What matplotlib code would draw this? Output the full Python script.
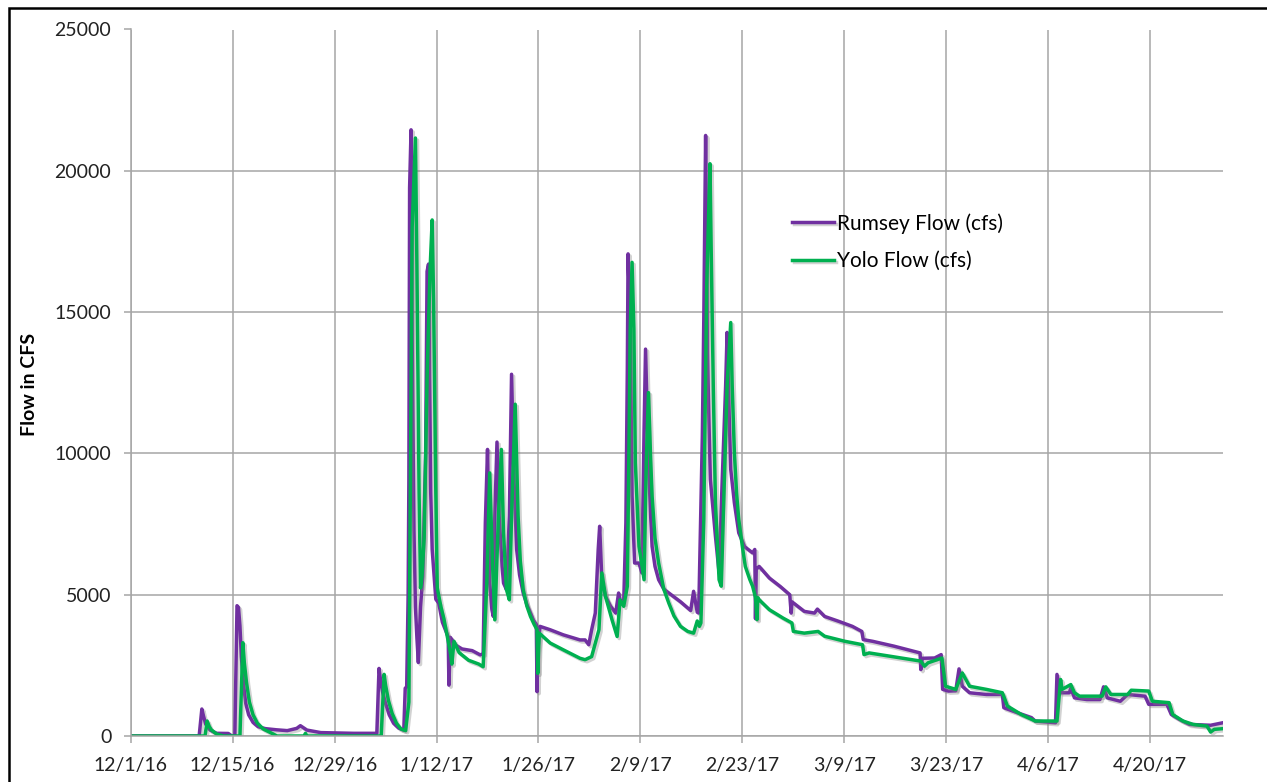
import matplotlib
matplotlib.use("Agg")
import matplotlib.pyplot as plt
import matplotlib.patheffects as pe
import matplotlib.patches as mpatches
import pandas as pd

# day offsets from 12/1/16 and flow values
start = pd.Timestamp("2016-12-01")

rumsey_days = [0, 9.4, 9.77, 10.0, 10.3, 10.9, 11.8, 13.4, 13.9, 14.3, 14.6, 14.8, 15.0, 15.2, 15.5,
               15.8, 16.2, 16.8, 17.5, 18.5, 20.0, 21.5, 22.8, 23.3, 24.2, 26.1, 30.6, 33.8, 34.1,
               34.3, 34.6, 35.0, 35.5, 36.1, 36.8, 37.5, 37.7, 37.9,
               38.1, 38.2, 38.3, 38.5, 38.65, 38.9, 39.1, 39.3, 39.5, 39.8, 40.1, 40.5, 40.7, 40.9, 41.2,
               41.4, 41.9, 42.3, 42.8, 43.2, 43.6, 43.7, 43.9, 44.6, 45.5, 46.9, 48.0, 48.4,
               48.7, 49.0, 49.3, 49.6, 49.8, 50.0, 50.3, 50.6, 51.0, 51.2, 51.6, 52.0, 52.3, 52.65, 53.0,
               53.4, 53.9, 54.4, 54.9, 55.3, 55.7, 55.8, 55.9, 56.2, 57.6, 59.4, 61.7,
               62.4, 62.9, 63.3, 63.8, 64.2, 64.4, 64.7, 65.2, 65.9, 66.6, 67.0, 67.2, 67.7, 68.0, 68.2,
               68.3, 68.6, 68.85, 69.2, 69.8, 70.2, 70.5, 70.7, 71.1, 71.4, 71.6, 72.0, 72.5, 73.2, 73.9,
               75.5, 76.9, 77.3, 77.8, 78.0, 78.5, 78.7, 78.95, 79.2, 79.4, 79.6, 80.3, 80.8, 81.2, 81.7,
               81.9, 82.2, 82.4, 82.9, 83.5, 84.3, 85.4, 85.7, 85.8, 85.9, 86.3, 87.7, 89.2, 90.5, 90.7,
               90.8, 92.5, 93.9, 94.3, 95.3, 97.2, 99.1, 100.4, 100.6, 101.9, 104.8, 108.4, 108.5, 108.7,
               110.4, 111.3, 111.5, 112.3, 113.3, 113.75, 114.2, 115.2, 117.5, 119.7, 119.9, 121.8, 123.7,
               124.2, 127.0, 127.2, 127.7, 128.9, 129.1, 129.6, 131.3, 133.1, 133.6, 134.1, 135.9, 136.9,
               139.3, 139.8, 142.3, 142.9, 144.0, 145.4, 148.3, 150.0]
rumsey_cfs = [0, 0, 955, 700, 420, 210, 95, 90, 0, 0, 4610, 4550, 3900, 2800, 1800,
              1150, 750, 480, 330, 260, 220, 190, 270, 365, 210, 120, 95, 95, 2390,
              2000, 1550, 1150, 750, 450, 280, 210, 1690, 1740,
              5000, 9020, 19400, 21450, 14000, 7270, 4570, 3490, 2600, 4570, 5650, 10000, 16440, 16700, 8600,
              6600, 4840, 4700, 4030, 3760, 3500, 1800, 3490, 3220, 3080, 3020, 2870, 2910,
              7540, 10140, 5410, 4470, 4230, 7780, 10400, 7780, 6000, 5410, 5180, 7780, 12800, 8960, 6600,
              5700, 5060, 4650, 4350, 4100, 3940, 1570, 3000, 3880, 3760, 3580, 3400,
              3400, 3230, 3760, 4350, 6600, 7420, 5530, 4940, 4590, 4350, 5060, 4820, 4700, 7540, 13000,
              17060, 14400, 8490, 6120, 6120, 5770, 10850, 13690, 9670, 7800, 6710, 6000, 5530, 5200, 5060,
              4750, 4440, 5120, 4380, 4350, 10610, 14750, 21250, 13570, 11200, 9080, 7070, 5770, 8840, 12390,
              14280, 11200, 9430, 8250, 7190, 6700, 6480, 6600, 4150, 5900, 6000, 5590, 5290, 5000, 4350,
              4750, 4410, 4350, 4490, 4230, 4060, 3880, 3700, 3410, 3350, 3180, 2940, 2350, 2750,
              2760, 2880, 1650, 1590, 1600, 2375, 1760, 1530, 1470, 1470, 1000, 820, 650,
              530, 470, 2180, 1530, 1530, 1700, 1350, 1290, 1290, 1740, 1350, 1230, 1470,
              1410, 1120, 1120, 760, 590, 410, 380, 470]

yolo_days = [0, 10.2, 10.5, 10.8, 11.1, 11.8, 12.75, 15.0, 15.4, 15.6, 15.9, 16.3, 16.8, 17.4, 18.2,
             19.2, 20.1, 23.8, 24.0, 24.2, 34.4, 34.8, 35.0, 35.4, 35.9, 36.5, 37.1, 37.75, 38.2, 38.4,
             38.65, 39.1, 39.3, 39.6, 39.8, 40.0, 40.3, 40.7, 41.1, 41.4, 41.6, 41.9, 42.1, 42.6, 43.0,
             43.5, 43.9, 44.1, 44.4, 45.1, 46.4, 47.8, 48.4,
             48.9, 49.3, 49.7, 50.0, 50.5, 50.9, 51.2, 51.6, 52.0, 52.3, 52.8, 53.2, 53.5, 53.9, 54.4,
             54.9, 55.4, 55.8, 55.9, 56.1, 57.6, 59.4, 61.7, 62.4, 63.3, 64.3, 64.7, 65.2, 66.1, 66.8,
             67.2, 67.7, 68.2, 68.4, 68.6, 68.85, 69.1, 69.3, 69.8, 70.5, 70.8, 71.1, 71.4, 71.6, 72.0,
             72.5, 73.2, 73.9, 74.6, 75.5, 76.5, 77.3, 77.8, 78.1, 78.3,
             78.7, 79.1, 79.55, 79.7, 80.0, 80.3, 80.8, 81.1, 81.5, 81.9, 82.4, 82.6, 82.9, 83.2, 83.5,
             84.0, 84.4, 85.0, 85.4, 85.8, 86.0, 86.1, 86.3, 87.7, 89.6, 90.8, 91.0, 92.5, 94.4, 95.3,
             98.1, 100.5, 100.7, 101.4, 104.8, 108.5, 109.0, 109.5, 111.4, 111.9, 113.3, 114.2, 115.2,
             117.5, 119.7, 120.4, 122.3, 124.2, 127.2, 127.7, 127.9, 129.1, 129.6, 130.3, 133.4, 133.9,
             134.6, 136.9, 137.4, 139.8, 140.3, 142.6, 143.1, 144.5, 145.9, 147.8, 148.3, 148.8, 150.0]
yolo_cfs = [0, 0, 530, 330, 210, 70, 0, 0, 3300, 2600, 1900, 1200, 750, 450, 250,
            120, 0, 0, 95, 0, 0, 2180, 1800, 1250, 800, 450, 250, 190, 1200, 8600,
            18000, 21160, 16700, 8600, 5240, 5650, 7000, 12660, 16440, 18260, 15360, 8600, 5240, 4570, 4160,
            3490, 2950, 2545, 3350, 2950, 2680, 2545, 2450,
            5410, 9310, 6000, 4110, 7780, 10140, 7190, 5180, 4820, 7780, 11740, 7780, 6200, 5180, 4600,
            4230, 3950, 3760, 2220, 3640, 3290, 3050, 2750, 2700, 2810, 3760, 5770, 4940, 4110, 3520,
            4820, 4590, 5300, 9670, 14400, 16760, 14400, 9670, 6710, 5530, 9670, 12150, 9800, 8490, 7000,
            6120, 5200, 4700, 4250, 3880, 3700, 3640, 4070, 3880, 4000,
            7660, 15930, 20250, 17470, 12390, 8250, 5530, 5300, 8840, 12390, 14630, 12390, 10020, 8600, 7660,
            6700, 6000, 5550, 5300, 4900, 4120, 4900, 4820, 4470, 4170, 4000, 3700, 3640, 3700, 3530,
            3350, 3230, 2880, 2940, 2800, 2650, 2470, 2590, 2760, 1760, 1650, 2230, 1760,
            1650, 1530, 1060, 760, 530, 530, 2000, 1650, 1820, 1530, 1410, 1410, 1740,
            1470, 1470, 1620, 1590, 1230, 1180, 760, 530, 410, 350, 140, 235, 260]

tick_labels = ["12/1/16", "12/15/16", "12/29/16", "1/12/17", "1/26/17", "2/9/17", "2/23/17",
               "3/9/17", "3/23/17", "4/6/17", "4/20/17"]
y_ticks = [0, 5000, 10000, 15000, 20000, 25000]

plt.rcParams['font.family'] = ['Lato', 'DejaVu Sans']

fig = plt.figure(figsize=(12.67, 7.82), dpi=100)
ax = fig.add_axes([130.7 / 1267, 1 - 736 / 782, (1223 - 130.7) / 1267, (736 - 29.5) / 782])

rum_x = start + pd.to_timedelta(rumsey_days, unit="D")
yolo_x = start + pd.to_timedelta(yolo_days, unit="D")

shadow = [pe.SimpleLineShadow(offset=(1.5, -1.5), shadow_color="gray", alpha=0.35), pe.Normal()]
ax.plot(rum_x, rumsey_cfs, color="#7030A0", lw=2.5, label="Rumsey Flow (cfs)", path_effects=shadow,
        solid_joinstyle="round")
ax.plot(yolo_x, yolo_cfs, color="#00B050", lw=2.5, label="Yolo Flow (cfs)", path_effects=shadow,
        solid_joinstyle="round")

ticks = [pd.Timestamp(t) for t in pd.to_datetime(tick_labels, format="%m/%d/%y")]
ax.set_xticks(ticks)
ax.set_xticklabels(tick_labels)
ax.set_xlim(start, start + pd.Timedelta(days=150))
ax.set_ylim(0, 25000)
ax.set_yticks(y_ticks)
ax.set_yticklabels([str(v) for v in y_ticks])

ax.grid(True, color="#A6A6A6", lw=1.1)
ax.set_axisbelow(True)
for s in ["top", "right"]:
    ax.spines[s].set_visible(False)
for s in ["left", "bottom"]:
    ax.spines[s].set_color("#A6A6A6")
    ax.spines[s].set_linewidth(1.1)
ax.tick_params(axis="both", colors="#A6A6A6", length=5, width=1.1, labelsize=14, labelcolor="#222222")
ax.tick_params(axis="y", pad=9)
ax.tick_params(axis="x", pad=10)

ax.set_ylabel("Flow in CFS", fontsize=14, fontweight="bold", color="black")
ax.yaxis.set_label_coords(-0.085, 0.497)

ax.legend(loc="upper left", bbox_to_anchor=(792 / 1267, 1 - 213 / 782), bbox_transform=fig.transFigure,
          frameon=False, fontsize=15, handlelength=2.0, handletextpad=0.15, labelspacing=0.85,
          borderpad=0, borderaxespad=0)

fig.patches.append(mpatches.Rectangle((9 / 1267, -0.05), 1.2, 1 - 8 / 782 + 0.05, transform=fig.transFigure,
                                      fill=False, edgecolor="black", lw=1.8))

fig.savefig("out.png", dpi=100, facecolor="white")
